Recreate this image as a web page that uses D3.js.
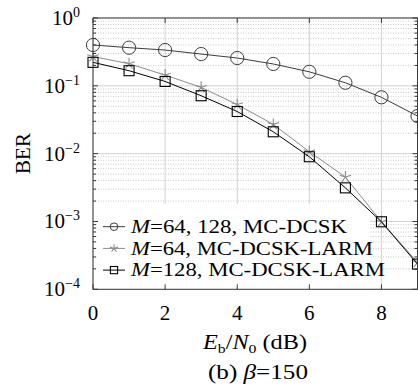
<!DOCTYPE html>
<html>
<head>
<meta charset="utf-8">
<script src="https://cdn.jsdelivr.net/npm/d3@7"></script>
<style>
  body { margin: 0; background: #fff; }
  text { fill: #000; }
</style>
</head>
<body>
<script>
// data
var snr = [0, 1, 2, 3, 4, 5, 6, 7, 8, 9];
var berDcsk = [0.40, 0.365, 0.337, 0.294, 0.257, 0.21, 0.161, 0.111, 0.0677, 0.0359];
var berLarm64 = [0.27, 0.212, 0.144, 0.095, 0.053, 0.027, 0.0107, 0.00452, 0.00099, 0.00025];
var berLarm128 = [0.222, 0.167, 0.116, 0.0714, 0.0418, 0.021, 0.0090, 0.00313, 0.00099, 0.000235];
var xTicks = [0, 2, 4, 6, 8];
var yTickExp = ["0", "\u22121", "\u22122", "\u22123", "\u22124"];
var legendNames = ["=64, 128, MC-DCSK", "=64, MC-DCSK-LARM", "=128, MC-DCSK-LARM"];
var legendWidths = [216, 242, 254];

var width = 418, height = 386;
var pl = 93, pr = 417.5, pt = 18, pb = 289.3;

var svg = d3.select("body").append("svg")
    .attr("width", width)
    .attr("height", height)
    .attr("font-family", "'Liberation Serif', serif");

var x = d3.scaleLinear().domain([0, 9]).range([pl, pr]);
var y = d3.scaleLog().domain([1e-4, 1]).range([pb, pt]);

var allY = y.ticks();
var majorY = allY.filter(function(d) { return Math.abs(Math.log10(d) - Math.round(Math.log10(d))) < 1e-9; });
var minorY = allY.filter(function(d) { return majorY.indexOf(d) < 0; });

// grid
var grid = svg.append("g");
grid.selectAll(".minor").data(minorY).enter().append("line")
    .attr("x1", pl).attr("x2", pr)
    .attr("y1", function(d) { return y(d); }).attr("y2", function(d) { return y(d); })
    .attr("stroke", "#bdbdbd").attr("stroke-width", 0.8).attr("stroke-dasharray", "1,1.5");
grid.selectAll(".majy").data(majorY).enter().append("line")
    .attr("x1", pl).attr("x2", pr)
    .attr("y1", function(d) { return y(d); }).attr("y2", function(d) { return y(d); })
    .attr("stroke", "#d2d2d2").attr("stroke-width", 1);
grid.selectAll(".majx").data(xTicks).enter().append("line")
    .attr("y1", pt).attr("y2", pb)
    .attr("x1", function(d) { return x(d); }).attr("x2", function(d) { return x(d); })
    .attr("stroke", "#d2d2d2").attr("stroke-width", 1);

// markers
function drawMark(g, type, cx, cy, s, color) {
  if (type === "circle") {
    g.append("circle").attr("cx", cx).attr("cy", cy).attr("r", s)
      .attr("fill", "none").attr("stroke", color).attr("stroke-width", 1);
  } else if (type === "square") {
    g.append("rect").attr("x", cx - s).attr("y", cy - s)
      .attr("width", 2 * s).attr("height", 2 * s)
      .attr("fill", "none").attr("stroke", color).attr("stroke-width", 1.1);
  } else {
    var p = "";
    for (var k = 0; k < 5; k++) {
      var a = (90 + 72 * k) * Math.PI / 180;
      p += "M" + cx + "," + cy + "L" + (cx + s * Math.cos(a)) + "," + (cy - s * Math.sin(a));
    }
    g.append("path").attr("d", p).attr("fill", "none")
      .attr("stroke", color).attr("stroke-width", 1.1);
  }
}

var series = [
  { values: berDcsk, color: "#3c3c3c", mark: "circle", size: 6.6, lsize: 3.8 },
  { values: berLarm64, color: "#8c8c8c", mark: "star", size: 6, lsize: 4.2 },
  { values: berLarm128, color: "#000", mark: "square", size: 5, lsize: 3.6 }
];

// legend box sits under the curves
var lg = svg.append("g");
lg.append("rect").attr("x", 97.5).attr("y", 204).attr("width", 272).attr("height", 84.5).attr("fill", "#fff");

var line = d3.line()
    .x(function(d) { return x(d[0]); })
    .y(function(d) { return y(d[1]); });

series.forEach(function(s) {
  var pts = d3.zip(snr, s.values);
  var g = svg.append("g");
  g.append("path").datum(pts).attr("d", line)
    .attr("fill", "none").attr("stroke", s.color).attr("stroke-width", 1);
  pts.forEach(function(p) { drawMark(g, s.mark, x(p[0]), y(p[1]), s.size, s.color); });
});

series.forEach(function(s, i) {
  var cy = 226.7 + i * 21.7;
  lg.append("line").attr("x1", 103).attr("x2", 125).attr("y1", cy).attr("y2", cy)
    .attr("stroke", s.color).attr("stroke-width", 1);
  drawMark(lg, s.mark, 114, cy, s.lsize, s.color);
  var t = lg.append("text").attr("x", 131).attr("y", cy + 6.2).attr("font-size", 18.5)
    .attr("textLength", legendWidths[i]).attr("lengthAdjust", "spacingAndGlyphs");
  t.append("tspan").attr("font-style", "italic").text("M");
  t.append("tspan").text(legendNames[i]);
});

// axes box and ticks
var axisColor = "#3a3a3a";
var ax = svg.append("g").attr("stroke", axisColor).attr("stroke-width", 1).attr("fill", "none");
ax.append("rect").attr("x", pl).attr("y", pt).attr("width", pr - pl).attr("height", pb - pt);
xTicks.forEach(function(d) {
  ax.append("line").attr("x1", x(d)).attr("x2", x(d)).attr("y1", pb).attr("y2", pb - 5);
  ax.append("line").attr("x1", x(d)).attr("x2", x(d)).attr("y1", pt).attr("y2", pt + 5);
});
majorY.forEach(function(d) {
  ax.append("line").attr("x1", pl).attr("x2", pl + 5).attr("y1", y(d)).attr("y2", y(d));
  ax.append("line").attr("x1", pr).attr("x2", pr - 5).attr("y1", y(d)).attr("y2", y(d));
});
minorY.forEach(function(d) {
  ax.append("line").attr("x1", pl).attr("x2", pl + 3).attr("y1", y(d)).attr("y2", y(d));
  ax.append("line").attr("x1", pr).attr("x2", pr - 3).attr("y1", y(d)).attr("y2", y(d));
});

// tick labels
svg.append("g").selectAll("text").data(xTicks).enter().append("text")
    .attr("x", function(d) { return x(d); }).attr("y", 319.5)
    .attr("text-anchor", "middle").attr("font-size", 21)
    .text(function(d) { return d; });

var yl = svg.append("g").selectAll("text").data(majorY.slice().sort(d3.descending)).enter().append("text")
    .attr("x", 80).attr("y", function(d) { return y(d) + 7; })
    .attr("text-anchor", "end").attr("font-size", 21);
yl.append("tspan").text("10");
yl.append("tspan").attr("dy", -8).attr("font-size", 14).text(function(d, i) { return yTickExp[i]; });

// axis titles
svg.append("text").attr("transform", "translate(30,153.5) rotate(-90)")
    .attr("text-anchor", "middle").attr("font-size", 21).text("BER");

var xt = svg.append("text").attr("x", 203).attr("y", 348.5)
    .attr("font-size", 20).attr("textLength", 104).attr("lengthAdjust", "spacingAndGlyphs");
xt.append("tspan").attr("font-style", "italic").text("E");
xt.append("tspan").attr("font-size", 13).attr("dy", 4).text("b");
xt.append("tspan").attr("dy", -4).text("/");
xt.append("tspan").attr("font-style", "italic").text("N");
xt.append("tspan").attr("font-size", 13).attr("dy", 4).text("0");
xt.append("tspan").attr("dy", -4).text(" (dB)");

var cap = svg.append("text").attr("x", 208).attr("y", 378.5)
    .attr("font-size", 20).attr("textLength", 100).attr("lengthAdjust", "spacingAndGlyphs");
cap.append("tspan").text("(b) ");
cap.append("tspan").attr("font-style", "italic").text("\u03b2");
cap.append("tspan").text("=150");
</script>
</body>
</html>
